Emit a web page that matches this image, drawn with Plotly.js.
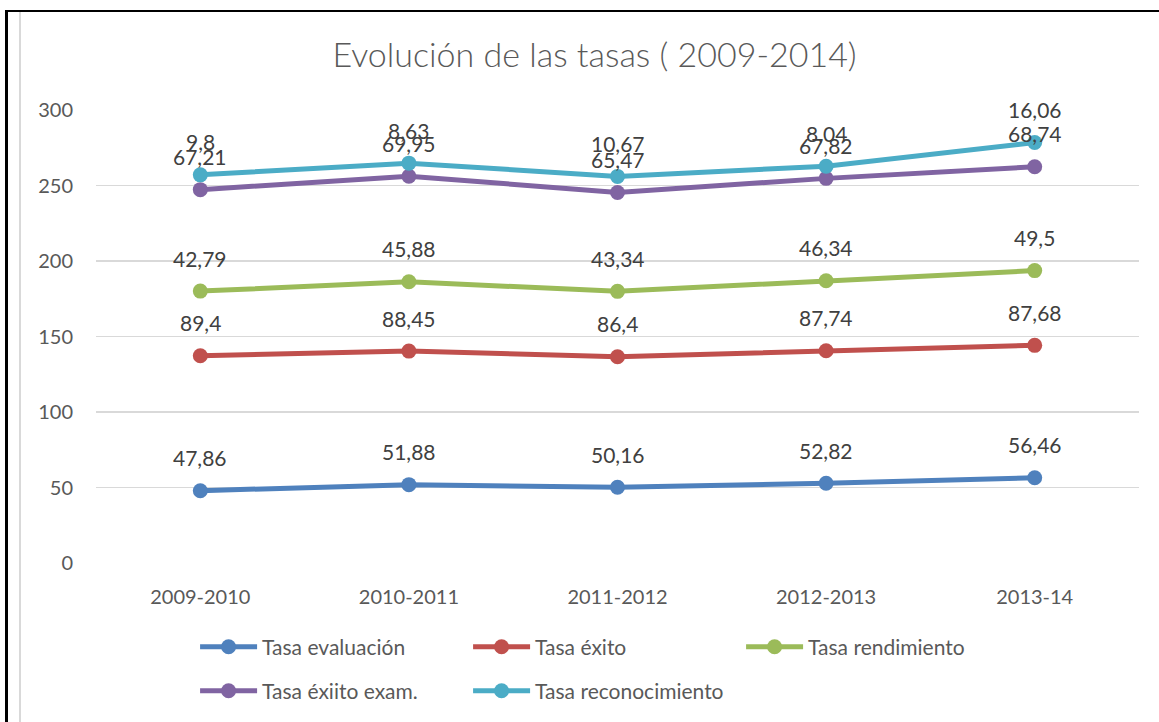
<!DOCTYPE html>
<html>
<head>
<meta charset="utf-8">
<script src="https://cdn.plot.ly/plotly-3.0.1.min.js"></script>
<style>
html,body{margin:0;padding:0;background:#fff;}
#wrap{position:relative;width:1159px;height:722px;overflow:hidden;}
#chart{position:absolute;left:0;top:0;width:1159px;height:722px;}
.bl{position:absolute;left:5px;top:10px;width:3px;height:712px;background:#000;pointer-events:none;}
.bt{position:absolute;left:5px;top:10px;width:1154px;height:2px;background:#000;pointer-events:none;}
.gl{position:absolute;left:19px;top:12px;width:2px;height:710px;background:#d9d9d9;pointer-events:none;}
</style>
</head>
<body>
<div id="wrap">
<div id="chart"></div>
<div class="bl"></div><div class="bt"></div><div class="gl"></div>
</div>
<script>
const categories = ["2009-2010","2010-2011","2011-2012","2012-2013","2013-14"];
const seriesNames = ["Tasa evaluación","Tasa éxito","Tasa rendimiento","Tasa éxiito exam.","Tasa reconocimiento"];
const tasaEvaluacion = [47.86, 51.88, 50.16, 52.82, 56.46];
const tasaExito = [89.4, 88.45, 86.4, 87.74, 87.68];
const tasaRendimiento = [42.79, 45.88, 43.34, 46.34, 49.5];
const tasaExitoExam = [67.21, 69.95, 65.47, 67.82, 68.74];
const tasaReconocimiento = [9.8, 8.63, 10.67, 8.04, 16.06];
const colors = ["#4f81bd","#c0504d","#9bbb59","#8064a2","#4bacc6"];
const yTicks = [0, 50, 100, 150, 200, 250, 300];

const allSeries = [tasaEvaluacion, tasaExito, tasaRendimiento, tasaExitoExam, tasaReconocimiento];
const FONT = "Lato, 'Noto Sans', sans-serif";

const traces = allSeries.map((vals, i) => ({
  type: 'scatter',
  mode: 'lines+markers',
  x: categories,
  y: vals,
  name: seriesNames[i],
  stackgroup: 'one',
  fill: 'none',
  line: {color: colors[i], width: 5},
  marker: {color: colors[i], size: 15},
  legend: i < 3 ? 'legend' : 'legend2',
  hoverinfo: 'x+y+name'
}));

const annotations = [];
const cum = categories.map(() => 0);
allSeries.forEach((vals, i) => {
  vals.forEach((v, j) => {
    cum[j] += v;
    annotations.push({
      x: categories[j], y: cum[j], xref: 'x', yref: 'y',
      text: String(v).replace('.', ','),
      showarrow: false, yshift: 33,
      font: {family: FONT, size: 21, color: '#404040'}
    });
  });
});

const legendCommon = {
  orientation: 'h', xanchor: 'left', yanchor: 'middle',
  font: {family: FONT, size: 21, color: '#595959'},
  bgcolor: 'rgba(0,0,0,0)', entrywidth: 201, entrywidthmode: 'pixels', itemwidth: 57
};

const layout = {
  width: 1159, height: 722,
  margin: {l: 96, r: 20, t: 110, b: 158},
  paper_bgcolor: '#ffffff', plot_bgcolor: '#ffffff',
  title: {text: 'Evolución de las tasas ( 2009-2014)', x: 0.513, xanchor: 'center', y: 0.924, yanchor: 'middle', yref: 'container',
          font: {family: FONT, size: 34, weight: 300, color: '#595959'}},
  xaxis: {type: 'category', range: [-0.5, 4.5], showgrid: false, zeroline: false, showline: false,
          ticks: '', tickfont: {family: FONT, size: 20, color: '#595959'}, ticklabelstandoff: 20},
  yaxis: {range: [0, 300], tickvals: yTicks, ticktext: yTicks.map(String), showgrid: true, gridcolor: '#d9d9d9', gridwidth: 1.5,
          zeroline: false, showline: false, ticks: '', tickfont: {family: FONT, size: 20, color: '#595959'}, ticklabelstandoff: 22},
  legend: Object.assign({}, legendCommon, {x: 0.095, y: -0.183}),
  legend2: Object.assign({}, legendCommon, {x: 0.095, y: -0.28}),
  showlegend: true,
  annotations: annotations
};

Plotly.newPlot('chart', traces, layout, {displayModeBar: false, staticPlot: true});
</script>
</body>
</html>
